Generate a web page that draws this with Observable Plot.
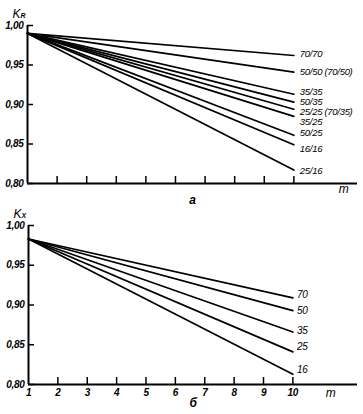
<!DOCTYPE html>
<html>
<head>
<meta charset="utf-8">
<script src="https://cdn.jsdelivr.net/npm/d3@7"></script>
<script src="https://cdn.jsdelivr.net/npm/@observablehq/plot@0.6"></script>
<style>
  html, body { margin: 0; padding: 0; background: #fff; }
  #chart svg { display: block; }
  #chart text { letter-spacing: -0.3px; }
</style>
</head>
<body>
<div id="chart"></div>
<script>
// ---- data ----
const mRange = [1, 10];
const xTicks = [2, 3, 4, 5, 6, 7, 8, 9, 10];
const xTickLabels = [1, 2, 3, 4, 5, 6, 7, 8, 9, 10];
const yTicks = [0.80, 0.85, 0.90, 0.95, 1.00];

// (a) K_R
const seriesA = ["70/70", "50/50 (70/50)", "35/35", "50/35", "25/25 (70/35)", "35/25", "50/25", "16/16", "25/16"];
const startA = [0.990, 0.990, 0.990, 0.990, 0.990, 0.990, 0.990, 0.990, 0.990];
const endA = [0.962, 0.941, 0.913, 0.903, 0.894, 0.885, 0.861, 0.849, 0.817];

// (б) K_X
const seriesB = ["70", "50", "35", "25", "16"];
const startB = [0.983, 0.983, 0.983, 0.983, 0.983];
const endB = [0.909, 0.893, 0.866, 0.841, 0.813];

// ---- label nudges (style only, px) ----
const nudgeA = {"70/70": -1.5, "50/50 (70/50)": 0, "35/35": -2.5, "50/35": 0, "25/25 (70/35)": 2.5, "35/25": 6, "50/25": -2, "16/16": 4, "25/16": 1};
const nudgeB = {"70": -3, "50": 0, "35": -1, "25": -5, "16": -4};

const font = "'Liberation Sans', Arial, sans-serif";

function rows(names, starts, ends) {
  const out = [];
  names.forEach((s, i) => {
    out.push({s, m: mRange[0], k: starts[i]});
    out.push({s, m: mRange[1], k: ends[i]});
  });
  return out;
}
const fmt = d => d3.format(".2f")(d).replace(".", ",");

function panel({data, names, ends, nudge, ml, mt, mb, xmax, showXLabels, yName, yLetter, letter, mDx, mDy, letterDy, labelDx, labelSize}) {
  const W = 363, H = 207;
  const plotW = W - ml - 6;
  const plotH = H - mt - mb;
  const labelMarks = names.map((s, i) =>
    Plot.text([{s, m: mRange[1], k: ends[i]}], {x: "m", y: "k", text: "s", textAnchor: "start",
      dx: labelDx, dy: nudge[s] || 0, fontSize: labelSize, fontStyle: "italic", fill: "#000"}));
  return Plot.plot({
    width: W, height: H,
    marginLeft: ml, marginRight: 6, marginTop: mt, marginBottom: mb,
    x: {domain: [1, xmax], axis: null, label: null},
    y: {domain: [0.80, 1.00], axis: null, label: null},
    style: {fontFamily: font, background: "#fff", color: "#000", overflow: "visible"},
    marks: [
      Plot.axisY(yTicks, {label: null, tickSize: 0, tickPadding: 4, tickFormat: fmt, fontSize: 10, fontStyle: "italic", fontWeight: "bold"}),
      Plot.tickY(yTicks, {y: d => d, stroke: "#000", strokeWidth: 1.5, insetRight: plotW - 6}),
      Plot.tickX(xTicks, {x: d => d, stroke: "#000", strokeWidth: 1.5, insetTop: plotH - 7}),
      showXLabels ? Plot.axisX(xTickLabels, {label: null, tickSize: 0, tickPadding: 4, tickFormat: d => d, fontSize: 10, fontStyle: "italic", fontWeight: "bold"}) : null,
      Plot.ruleX([1], {stroke: "#000", strokeWidth: 2}),
      Plot.ruleY([0.80], {stroke: "#000", strokeWidth: 2}),
      Plot.line(data, {x: "m", y: "k", z: "s", stroke: "#000", strokeWidth: 1.7}),
      ...labelMarks,
      Plot.text([yName], {frameAnchor: "top-left", dx: -15, dy: -16, text: d => d, fontSize: 12, fontStyle: "italic", textAnchor: "start"}),
      Plot.text([yLetter], {frameAnchor: "top-left", dx: -7, dy: -12, text: d => d, fontSize: 7, fontStyle: "italic", fontWeight: "bold", textAnchor: "start"}),
      Plot.text(["m"], {frameAnchor: "bottom-right", dx: mDx, dy: mDy, text: d => d, fontSize: 12, fontStyle: "italic"}),
      Plot.text([letter], {frameAnchor: "bottom", dx: 0, dy: letterDy, text: d => d, fontSize: 12, fontStyle: "italic", fontWeight: "bold"})
    ]
  });
}

const panelA = panel({
  data: rows(seriesA, startA, endA), names: seriesA, ends: endA, nudge: nudgeA,
  ml: 27, mt: 25, mb: 24, xmax: 12.15, showXLabels: false,
  yName: "K", yLetter: "R", letter: "а", mDx: -9, mDy: 9, letterDy: 20, labelDx: 6, labelSize: 9.5
});
const panelB = panel({
  data: rows(seriesB, startB, endB), names: seriesB, ends: endB, nudge: nudgeB,
  ml: 28, mt: 18, mb: 30, xmax: 12.2, showXLabels: true,
  yName: "K", yLetter: "X", letter: "б", mDx: -22, mDy: 12, letterDy: 22, labelDx: 4, labelSize: 10
});
document.getElementById("chart").append(panelA, panelB);
</script>
</body>
</html>
